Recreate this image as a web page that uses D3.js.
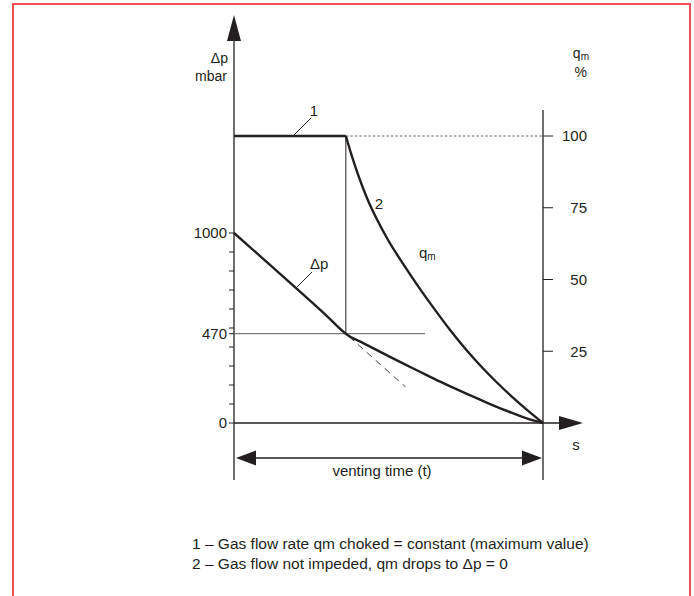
<!DOCTYPE html>
<html><head><meta charset="utf-8">
<script src="https://cdn.jsdelivr.net/npm/d3@7/dist/d3.min.js"></script>
<style>
html,body{margin:0;padding:0;background:#fff;}
svg{display:block;font-family:"Liberation Sans",Arial,Helvetica,sans-serif;}
</style></head>
<body>
<svg id="c" width="694" height="596"></svg>
<script>
// ---- data ----
const chokeTime = 0.362;               // fraction of venting time where choking ends
const pressureTicks = [0,100,200,300,400,500,600,700,800,900,1000,470];
const pressureLabels = [0,470,1000];
const flowTicks = [25,50,75,100];
// Δp curve (time fraction, mbar)
const pTime  = [0, 0.1, 0.2, 0.3, 0.362, 0.38, 0.40, 0.45, 0.50, 0.55, 0.60, 0.65, 0.70, 0.75, 0.80, 0.85, 0.90, 0.95, 1.0];
const pValue = [1000, 856, 711, 564, 470, 450, 435, 394, 352, 311, 271, 231, 193, 156, 120, 85, 53, 23, 0];
// qm curve 2 (time fraction, %)
const qTime  = [0.362, 0.38, 0.40, 0.43, 0.46, 0.50, 0.55, 0.60, 0.65, 0.70, 0.75, 0.80, 0.85, 0.90, 0.95, 1.0];
const qValue = [100, 93.5, 87, 78.5, 71.5, 63.5, 55, 47, 39.5, 32.3, 25.7, 19.7, 14.2, 9.1, 4.4, 0];
// line 1 (choked flow, constant)
const q1Time = [0, chokeTime];
const q1Value = [100, 100];
// tangent (dashed)
const tanTime = [chokeTime, 0.555];
const tanValue = [470, 190];
const footnotes = ["1 \u2013 Gas flow rate qm choked = constant (maximum value)",
                   "2 \u2013 Gas flow not impeded, qm drops to \u0394p = 0"];

const svg = d3.select("#c");
const x = d3.scaleLinear().domain([0,1]).range([234,543]);
const yP = d3.scaleLinear().domain([0,1000]).range([423,233]);
const yQ = d3.scaleLinear().domain([0,100]).range([423,136]);
const ink = "#231f20";
const fs = 15;

// border
svg.append("path").attr("d","M13,600 L13,4 L690,4 L690,600")
  .attr("fill","none").attr("stroke","#ef5058").attr("stroke-width",2);

// left axis line + arrow
svg.append("line").attr("x1",x(0)).attr("x2",x(0)).attr("y1",38).attr("y2",480).attr("stroke",ink).attr("stroke-width",1.3);
svg.append("path").attr("d",`M${x(0)},15 L${x(0)-7},41 L${x(0)+7},41 Z`).attr("fill",ink);
// right axis line
svg.append("line").attr("x1",x(1)).attr("x2",x(1)).attr("y1",110).attr("y2",480).attr("stroke",ink).attr("stroke-width",1.3);
// x axis + arrow
svg.append("line").attr("x1",x(0)).attr("x2",565).attr("y1",yP(0)).attr("y2",yP(0)).attr("stroke",ink).attr("stroke-width",1.3);
svg.append("path").attr("d",`M583,${yP(0)} L559,${yP(0)-7} L559,${yP(0)+7} Z`).attr("fill",ink);

// left ticks
const gL = svg.append("g").attr("transform",`translate(${x(0)},0)`);
gL.selectAll("line").data(pressureTicks).join("line")
  .attr("x1",-5).attr("x2",0).attr("y1",d=>yP(d)).attr("y2",d=>yP(d)).attr("stroke",ink).attr("stroke-width",1);
gL.selectAll("text").data(pressureLabels).join("text")
  .attr("x",-7).attr("y",d=>yP(d)).attr("dy","0.35em").attr("text-anchor","end")
  .attr("font-size",fs).attr("fill",ink).text(d=>d);
// right ticks
const gR = svg.append("g").attr("transform",`translate(${x(1)},0)`);
gR.selectAll("line").data(flowTicks).join("line")
  .attr("x1",0).attr("x2",10).attr("y1",d=>yQ(d)).attr("y2",d=>yQ(d)).attr("stroke",ink).attr("stroke-width",1);
gR.selectAll("text").data(flowTicks).join("text")
  .attr("x",44).attr("y",d=>yQ(d)).attr("dy","0.35em").attr("text-anchor","end")
  .attr("font-size",fs).attr("fill",ink).text(d=>d);

// axis titles
svg.append("text").attr("x",228).attr("y",63).attr("text-anchor","end").attr("font-size",14).attr("fill",ink).text("\u0394p");
svg.append("text").attr("x",227).attr("y",81).attr("text-anchor","end").attr("font-size",14).attr("fill",ink).text("mbar");
const qt = svg.append("text").attr("x",589).attr("y",58).attr("text-anchor","end").attr("font-size",14).attr("fill",ink);
qt.append("tspan").text("q");
qt.append("tspan").attr("font-size",10).attr("dy",2).text("m");
svg.append("text").attr("x",587).attr("y",77).attr("text-anchor","end").attr("font-size",14).attr("fill",ink).text("%");
svg.append("text").attr("x",576).attr("y",450).attr("text-anchor","middle").attr("font-size",fs).attr("fill",ink).text("s");

// helper lines
svg.append("line").attr("x1",x(chokeTime)).attr("x2",x(chokeTime)).attr("y1",yQ(100)).attr("y2",yP(470)).attr("stroke",ink).attr("stroke-width",1);
svg.append("line").attr("x1",x(0)).attr("x2",425).attr("y1",yP(470)).attr("y2",yP(470)).attr("stroke","#555").attr("stroke-width",1);
svg.append("line").attr("x1",x(chokeTime)).attr("x2",x(1)).attr("y1",yQ(100)).attr("y2",yQ(100))
  .attr("stroke","#666").attr("stroke-width",1).attr("stroke-dasharray","2.5,2");
// dashed tangent
svg.append("path").attr("d",d3.line()(tanTime.map((t,i)=>[x(t),yP(tanValue[i])])))
  .attr("fill","none").attr("stroke","#444").attr("stroke-width",1).attr("stroke-dasharray","7,5").attr("stroke-dashoffset",-4);

const line = d3.line().curve(d3.curveMonotoneX);
// curves
svg.append("path").attr("d",line(q1Time.map((t,i)=>[x(t),yQ(q1Value[i])])))
  .attr("fill","none").attr("stroke",ink).attr("stroke-width",2.4);
svg.append("path").attr("d",line(qTime.map((t,i)=>[x(t),yQ(qValue[i])])))
  .attr("fill","none").attr("stroke",ink).attr("stroke-width",2.4);
svg.append("path").attr("d",line(pTime.map((t,i)=>[x(t),yP(pValue[i])])))
  .attr("fill","none").attr("stroke",ink).attr("stroke-width",2.4);

// labels with leaders
function lead(x1,y1,x2,y2){svg.append("line").attr("x1",x1).attr("y1",y1).attr("x2",x2).attr("y2",y2).attr("stroke",ink).attr("stroke-width",1);}
lead(293,136,311,118);
svg.append("text").attr("x",314).attr("y",116).attr("text-anchor","middle").attr("font-size",fs).attr("fill",ink).text("1");
lead(297,287,312,272);
svg.append("text").attr("x",310).attr("y",269).attr("font-size",fs).attr("fill",ink).text("\u0394p");
svg.append("text").attr("x",379).attr("y",209).attr("text-anchor","middle").attr("font-size",fs).attr("fill",ink).text("2");
const ql = svg.append("text").attr("x",419).attr("y",258).attr("font-size",fs).attr("fill",ink);
ql.append("tspan").text("q"); ql.append("tspan").attr("font-size",10).attr("dy",2).text("m");

// venting time double arrow
const ya = 458;
svg.append("line").attr("x1",x(0)+15).attr("x2",x(1)-15).attr("y1",ya).attr("y2",ya).attr("stroke",ink).attr("stroke-width",1.3);
svg.append("path").attr("d",`M${x(0)+2},${ya} L${x(0)+22},${ya-7.5} L${x(0)+22},${ya+7.5} Z`).attr("fill",ink);
svg.append("path").attr("d",`M${x(1)-1},${ya} L${x(1)-21},${ya-7.5} L${x(1)-21},${ya+7.5} Z`).attr("fill",ink);
svg.append("text").attr("x",382).attr("y",476).attr("text-anchor","middle").attr("font-size",fs).attr("fill",ink).text("venting time (t)");

// footnotes
svg.selectAll("text.fn").data(footnotes).join("text").attr("class","fn")
  .attr("x",192).attr("y",(d,i)=>549+i*20).attr("font-size",15.5).attr("fill",ink).text(d=>d);
</script>
</body></html>
